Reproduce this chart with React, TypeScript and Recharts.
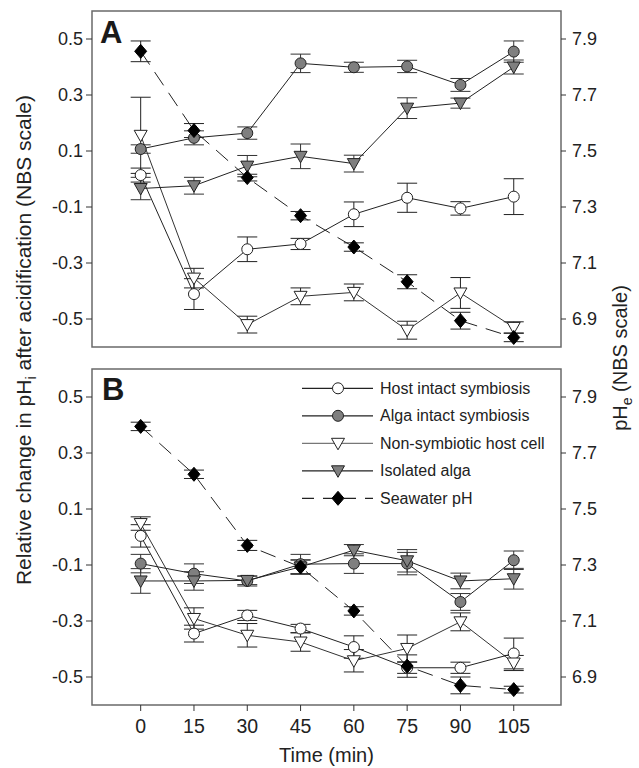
import React from 'react';
import { ComposedChart, Line, XAxis, YAxis, ErrorBar, ReferenceArea, Legend } from 'recharts';

const times = [0, 15, 30, 45, 60, 75, 90, 105];
const xTicks = [0, 15, 30, 45, 60, 75, 90, 105];
const leftTicks = [-0.5, -0.3, -0.1, 0.1, 0.3, 0.5];
const rightTicks = [6.9, 7.1, 7.3, 7.5, 7.7, 7.9];

// Panel A
const hostA = [0.014, -0.411, -0.251, -0.232, -0.126, -0.067, -0.105, -0.063];
const hostAErr = [0.025, 0.055, 0.044, 0.02, 0.044, 0.052, 0.024, 0.064];
const algaA = [0.107, 0.147, 0.164, 0.413, 0.399, 0.402, 0.336, 0.455];
const algaAErr = [0.015, 0.025, 0.022, 0.033, 0.018, 0.022, 0.023, 0.038];
const nonSymA = [0.156, -0.354, -0.52, -0.419, -0.405, -0.54, -0.407, -0.53];
const nonSymAErr = [0.136, 0.035, 0.03, 0.03, 0.03, 0.032, 0.055, 0.02];
const isoA = [-0.034, -0.024, 0.046, 0.081, 0.055, 0.253, 0.271, 0.4];
const isoAErr = [0.04, 0.03, 0.038, 0.044, 0.03, 0.037, 0.018, 0.025];
const seaA = [7.856, 7.573, 7.405, 7.269, 7.157, 7.033, 6.894, 6.834];
const seaAErr = [0.037, 0.025, 0.012, 0.015, 0.015, 0.025, 0.03, 0.015];

// Panel B
const hostB = [0.004, -0.345, -0.28, -0.327, -0.393, -0.467, -0.467, -0.416];
const hostBErr = [0.04, 0.03, 0.018, 0.015, 0.04, 0.02, 0.02, 0.055];
const algaB = [-0.095, -0.131, -0.157, -0.097, -0.095, -0.095, -0.232, -0.083];
const algaBErr = [0.033, 0.035, 0.018, 0.035, 0.035, 0.04, 0.03, 0.033];
const nonSymB = [0.048, -0.291, -0.351, -0.375, -0.442, -0.398, -0.303, -0.45];
const nonSymBErr = [0.024, 0.038, 0.042, 0.033, 0.04, 0.048, 0.032, 0.027];
const isoB = [-0.157, -0.157, -0.155, -0.107, -0.047, -0.085, -0.157, -0.149];
const isoBErr = [0.044, 0.033, 0.015, 0.025, 0.02, 0.04, 0.028, 0.037];
const seaB = [7.795, 7.624, 7.37, 7.293, 7.136, 6.939, 6.87, 6.855];
const seaBErr = [0.015, 0.015, 0.018, 0.025, 0.015, 0.04, 0.03, 0.012];

const seriesNames = [
  'Host intact symbiosis',
  'Alga intact symbiosis',
  'Non-symbiotic host cell',
  'Isolated alga',
  'Seawater pH',
];

const FONT = '"Liberation Sans", Arial, Helvetica, sans-serif';
const GRAY = '#7f7f7f';
const INK = '#222';

const buildData = (h, he, a, ae, n, ne, s, se, w, we) =>
  times.map((t, i) => ({
    t,
    host: h[i], hostErr: he[i],
    alga: a[i], algaErr: ae[i],
    non: n[i], nonErr: ne[i],
    iso: s[i], isoErr: se[i],
    sea: w[i], seaErr: we[i],
  }));

const dataA = buildData(hostA, hostAErr, algaA, algaAErr, nonSymA, nonSymAErr, isoA, isoAErr, seaA, seaAErr);
const dataB = buildData(hostB, hostBErr, algaB, algaBErr, nonSymB, nonSymBErr, isoB, isoBErr, seaB, seaBErr);

type Shape = 'circle' | 'tri' | 'diamond';

const Marker = ({ cx, cy, shape, fill }: { cx: number; cy: number; shape: Shape; fill: string }) => {
  if (shape === 'circle') return <circle cx={cx} cy={cy} r={5.5} fill={fill} stroke={INK} strokeWidth={1} />;
  if (shape === 'tri')
    return (
      <polygon
        points={`${cx - 6.5},${cy - 5} ${cx + 6.5},${cy - 5} ${cx},${cy + 6.5}`}
        fill={fill}
        stroke={INK}
        strokeWidth={1}
        strokeLinejoin="miter"
      />
    );
  return <polygon points={`${cx},${cy - 7} ${cx + 6},${cy} ${cx},${cy + 7} ${cx - 6},${cy}`} fill="#000" stroke="#000" />;
};

const makeDot = (shape: Shape, fill: string) => (props: any) => {
  const { cx, cy, index } = props;
  if (cx == null || cy == null) return <g key={`e-${index}`} />;
  return (
    <g key={`d-${shape}-${fill}-${index}`}>
      <Marker cx={cx} cy={cy} shape={shape} fill={fill} />
    </g>
  );
};

const seriesCfg = [
  { key: 'host', axis: 'left', shape: 'circle' as Shape, fill: '#fff', stroke: INK, legendStroke: INK, dash: undefined, errColor: INK },
  { key: 'alga', axis: 'left', shape: 'circle' as Shape, fill: GRAY, stroke: INK, legendStroke: INK, dash: undefined, errColor: '#333' },
  { key: 'non', axis: 'left', shape: 'tri' as Shape, fill: '#fff', stroke: '#333', legendStroke: '#777', dash: undefined, errColor: INK },
  { key: 'iso', axis: 'left', shape: 'tri' as Shape, fill: GRAY, stroke: INK, legendStroke: INK, dash: undefined, errColor: '#333' },
  { key: 'sea', axis: 'right', shape: 'diamond' as Shape, fill: '#000', stroke: INK, legendStroke: INK, dash: '16 9', errColor: INK },
];

const LegendBox = () => (
  <svg width={260} height={140} style={{ display: 'block' }}>
    {seriesCfg.map((s, i) => {
      const y = 13.3 + i * 27.5;
      return (
        <g key={s.key}>
          <line x1={7} x2={78} y1={y} y2={y} stroke={s.legendStroke} strokeWidth={1.2} strokeDasharray={s.dash ? '12 9' : undefined} />
          <Marker cx={43} cy={y} shape={s.shape} fill={s.fill} />
          <text x={85} y={y + 5.5} fontSize={16} fill={INK} fontFamily={FONT}>
            {seriesNames[i]}
          </text>
        </g>
      );
    })}
  </svg>
);

const Panel = ({ data, height, top, xHeight, showXLabels, legend }: any) => (
  <div style={{ position: 'absolute', left: 0, top, width: 639, height }}>
    <ComposedChart width={639} height={height} data={data} margin={{ top: 11, right: 0, bottom: 0, left: 0 }}>
      <XAxis
        dataKey="t"
        type="number"
        domain={[-13.7, 118.3]}
        ticks={xTicks}
        allowDataOverflow
        axisLine={false}
        tickLine={{ stroke: '#333' }}
        tickSize={6}
        tickMargin={8}
        height={xHeight}
        tick={showXLabels ? { fontSize: 19.5, fill: INK, fontFamily: FONT } : false}
        interval={0}
      />
      <YAxis
        yAxisId="left"
        orientation="left"
        type="number"
        domain={[-0.6, 0.6]}
        ticks={leftTicks}
        allowDataOverflow
        width={92}
        axisLine={false}
        tickLine={{ stroke: '#333' }}
        tickSize={6}
        tickMargin={3}
        tickFormatter={(v: number) => v.toFixed(1)}
        tick={{ fontSize: 18, fill: INK, fontFamily: FONT }}
        interval={0}
      />
      <YAxis
        yAxisId="right"
        orientation="right"
        type="number"
        domain={[6.8, 8.0]}
        ticks={rightTicks}
        allowDataOverflow
        width={78}
        axisLine={false}
        tickLine={{ stroke: '#333' }}
        tickSize={5}
        tickMargin={6}
        tickFormatter={(v: number) => v.toFixed(1)}
        tick={{ fontSize: 18, fill: INK, fontFamily: FONT }}
        interval={0}
      />
      <ReferenceArea
        yAxisId="left"
        x1={-13.7}
        x2={118.3}
        y1={-0.6}
        y2={0.6}
        fill="none"
        fillOpacity={0}
        stroke="#6a6a6a"
        strokeWidth={1.5}
        ifOverflow="visible"
      />
      {seriesCfg.map((s) => (
        <Line
          key={s.key}
          yAxisId={s.axis}
          dataKey={s.key}
          type="linear"
          stroke={s.stroke}
          strokeWidth={1}
          strokeDasharray={s.dash}
          dot={makeDot(s.shape, s.fill)}
          activeDot={false}
          isAnimationActive={false}
        >
          <ErrorBar dataKey={`${s.key}Err`} width={10} stroke={s.errColor} strokeWidth={1} direction="y" isAnimationActive={false} />
        </Line>
      ))}
      {legend && (
        <Legend
          layout="horizontal"
          verticalAlign="middle"
          align="center"
          content={() => <LegendBox />}
          wrapperStyle={{ position: 'absolute', left: 295, top: 17, width: 260, height: 140 }}
        />
      )}
    </ComposedChart>
  </div>
);

export default function App() {
  return (
    <div style={{ position: 'absolute', left: 0, top: 0, width: 639, height: 768, background: '#fff', fontFamily: FONT }}>
      <Panel data={dataA} height={368} top={0} xHeight={21} showXLabels={false} legend={false} />
      <Panel data={dataB} height={410} top={358} xHeight={63} showXLabels={true} legend={true} />
      <svg width={639} height={768} style={{ position: 'absolute', left: 0, top: 0, pointerEvents: 'none' }}>
        <text x={100} y={43} fontSize={31} fontWeight="bold" fill="#1a1a1a" fontFamily={FONT}>A</text>
        <text x={102} y={400} fontSize={31} fontWeight="bold" fill="#1a1a1a" fontFamily={FONT}>B</text>
        <text x={326.5} y={762} fontSize={20} textAnchor="middle" fill={INK} fontFamily={FONT}>Time (min)</text>
        <text transform="translate(31,340) rotate(-90)" fontSize={21} textAnchor="middle" fill={INK} fontFamily={FONT}>
          Relative change in pH<tspan dy={5} fontSize={15}>i</tspan>
          <tspan dy={-5}> after acidification (NBS scale)</tspan>
        </text>
        <text transform="translate(627,358) rotate(-90)" fontSize={20} textAnchor="middle" fill={INK} fontFamily={FONT}>
          pH<tspan dy={5} fontSize={14}>e</tspan>
          <tspan dy={-5}> (NBS scale)</tspan>
        </text>
      </svg>
    </div>
  );
}
